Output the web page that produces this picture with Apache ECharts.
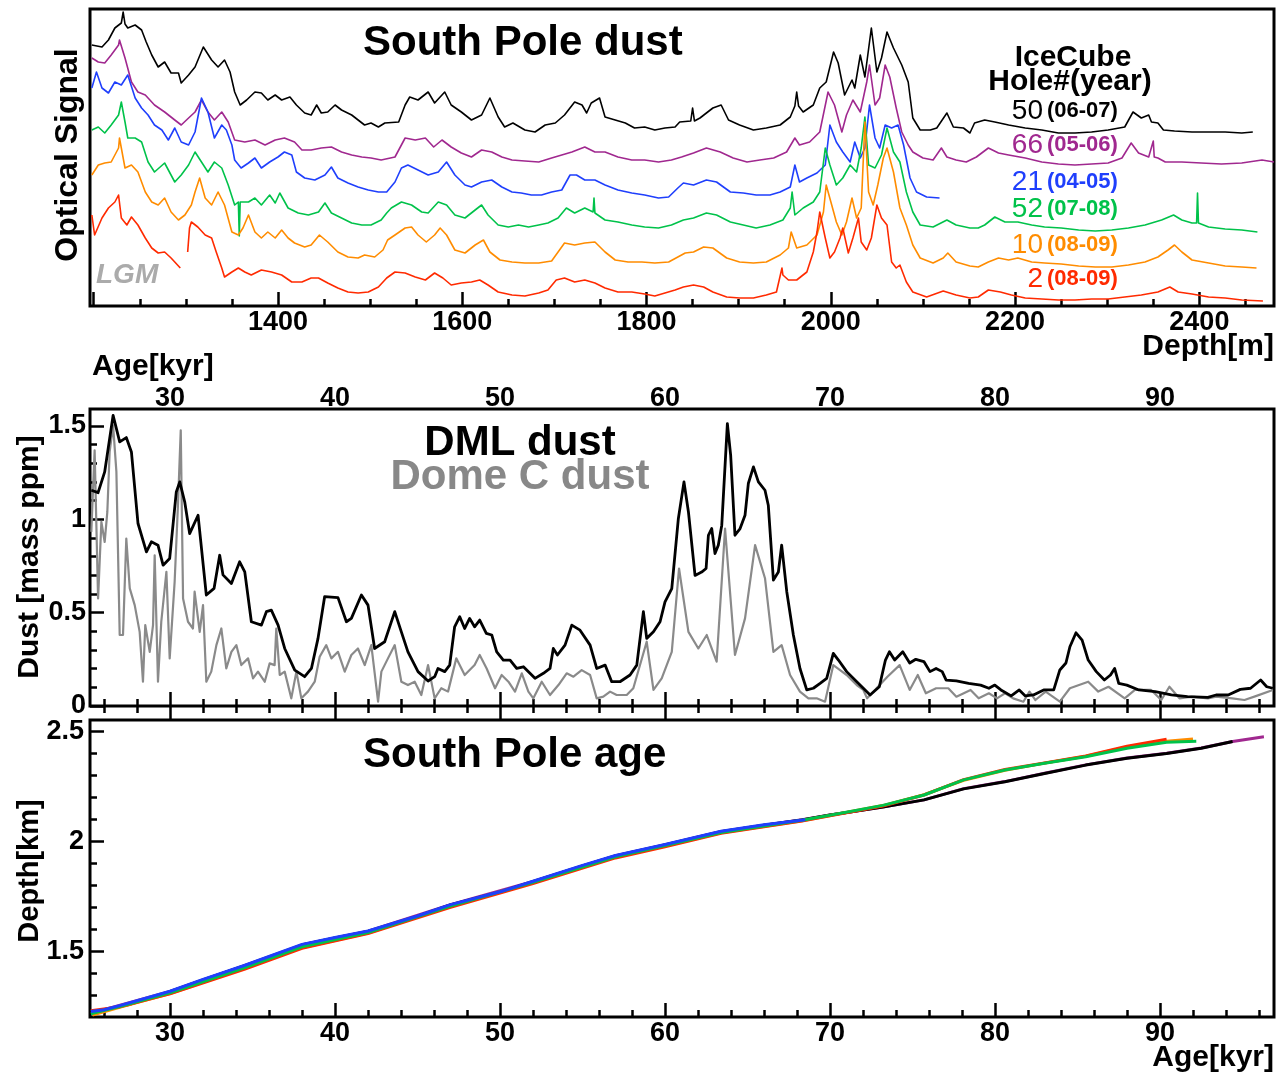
<!DOCTYPE html>
<html>
<head>
<meta charset="utf-8">
<script src="https://cdn.jsdelivr.net/npm/echarts@6/dist/echarts.min.js"></script>
<style>
  html, body { margin: 0; padding: 0; background: #fff; }
  #chart { width: 1276px; height: 1075px; }
</style>
</head>
<body>
<div id="chart"></div>
<script>
// ---------------- data ----------------
// Optical dust logs, [depth m, signal (arb. units, traces stacked)]
const hole50 = [[1198,261],[1209,259],[1216,266],[1223,278],[1230,283],[1232,294],[1234,282],[1237,278],[1245,281],[1252,276],[1257,264],[1263,251],[1270,239],[1277,244],[1284,233],[1292,233],[1295,223],[1303,231],[1310,239],[1319,259],[1328,246],[1335,239],[1342,246],[1348,234],[1353,214],[1359,201],[1366,206],[1375,214],[1382,213],[1389,206],[1397,211],[1404,206],[1413,209],[1420,201],[1429,193],[1436,191],[1442,201],[1447,193],[1454,194],[1462,201],[1469,196],[1480,191],[1487,186],[1494,181],[1501,183],[1509,179],[1516,183],[1531,184],[1538,201],[1543,209],[1552,206],[1563,214],[1570,203],[1581,214],[1588,201],[1599,194],[1610,186],[1621,191],[1630,208],[1639,189],[1646,179],[1655,183],[1668,176],[1679,174],[1690,181],[1701,183],[1711,191],[1722,204],[1730,201],[1735,193],[1740,203],[1749,208],[1755,189],[1766,186],[1777,183],[1787,178],[1798,179],[1809,176],[1820,178],[1831,179],[1836,184],[1848,185],[1850,198],[1852,185],[1858,188],[1872,198],[1881,201],[1889,186],[1901,181],[1916,176],[1930,178],[1945,181],[1956,189],[1961,200],[1963,214],[1965,200],[1970,194],[1981,201],[1988,218],[1995,224],[2003,254],[2008,243],[2015,211],[2023,226],[2026,218],[2032,251],[2037,229],[2044,278],[2050,234],[2055,248],[2061,274],[2068,258],[2077,241],[2084,224],[2089,188],[2097,176],[2108,176],[2115,178],[2126,193],[2133,179],[2144,178],[2151,173],[2156,183],[2167,186],[2178,184],[2193,181],[2211,178],[2229,176],[2247,173],[2265,173],[2283,174],[2301,176],[2319,179],[2328,194],[2337,188],[2345,191],[2348,184],[2355,183],[2361,176],[2373,175],[2392,174],[2410,174],[2428,174],[2446,173],[2458,174]];
const hole66 = [[1198,248],[1205,244],[1212,243],[1219,251],[1227,261],[1228,266],[1234,248],[1241,224],[1248,214],[1256,211],[1266,201],[1277,194],[1288,186],[1295,181],[1303,188],[1310,194],[1317,206],[1324,194],[1331,186],[1339,194],[1346,184],[1353,166],[1364,164],[1375,166],[1386,161],[1397,166],[1407,168],[1418,164],[1426,156],[1436,156],[1447,158],[1458,159],[1469,154],[1480,151],[1491,149],[1501,148],[1512,146],[1527,149],[1538,168],[1549,166],[1560,168],[1569,159],[1578,166],[1588,159],[1599,153],[1610,149],[1621,156],[1632,154],[1643,149],[1654,146],[1668,145],[1683,144],[1697,148],[1708,151],[1719,154],[1733,159],[1744,154],[1755,154],[1769,149],[1784,146],[1798,146],[1813,144],[1827,146],[1838,149],[1851,153],[1865,158],[1880,154],[1894,148],[1909,144],[1923,146],[1938,148],[1952,154],[1961,168],[1966,161],[1977,164],[1988,174],[1997,214],[2004,201],[2012,174],[2017,191],[2024,206],[2032,194],[2039,224],[2042,241],[2048,201],[2053,208],[2059,241],[2064,229],[2071,198],[2077,174],[2084,161],[2089,154],[2100,148],[2111,146],[2120,158],[2126,149],[2136,146],[2147,144],[2158,149],[2171,158],[2182,153],[2193,151],[2211,148],[2229,144],[2247,142],[2265,141],[2283,142],[2301,143],[2316,148],[2326,163],[2334,153],[2345,149],[2350,165],[2351,149],[2355,148],[2363,144],[2381,144],[2402,143],[2424,142],[2446,143],[2468,146],[2481,144]];
const hole21 = [[1198,218],[1203,234],[1209,218],[1216,213],[1223,224],[1230,221],[1237,231],[1245,208],[1252,198],[1259,191],[1266,181],[1274,176],[1281,166],[1288,178],[1295,164],[1303,161],[1310,174],[1317,208],[1324,194],[1331,168],[1339,181],[1344,176],[1350,161],[1353,146],[1360,138],[1368,143],[1375,148],[1382,138],[1391,144],[1400,149],[1407,154],[1415,151],[1420,134],[1429,128],[1440,126],[1451,131],[1458,139],[1465,128],[1476,123],[1487,119],[1498,116],[1509,114],[1518,114],[1527,124],[1534,138],[1541,141],[1552,136],[1563,131],[1574,134],[1583,144],[1592,131],[1603,121],[1610,119],[1621,124],[1632,126],[1643,119],[1654,114],[1664,113],[1675,111],[1686,111],[1697,114],[1708,116],[1717,131],[1724,131],[1733,126],[1744,126],[1755,121],[1769,116],[1784,113],[1798,111],[1813,108],[1824,109],[1834,118],[1840,123],[1851,121],[1865,126],[1876,124],[1891,114],[1905,113],[1919,111],[1934,111],[1945,114],[1956,119],[1961,141],[1966,124],[1974,128],[1985,133],[1994,141],[1999,181],[2006,164],[2013,154],[2021,144],[2026,164],[2032,148],[2037,158],[2042,201],[2048,168],[2053,158],[2059,181],[2066,178],[2073,181],[2079,161],[2086,128],[2093,114],[2104,109],[2118,108]];
const hole52 = [[1198,176],[1205,179],[1212,173],[1219,181],[1227,191],[1230,204],[1234,184],[1237,168],[1245,168],[1252,164],[1259,144],[1266,134],[1277,143],[1288,124],[1295,131],[1303,141],[1310,154],[1317,144],[1324,134],[1331,144],[1339,138],[1346,121],[1353,101],[1357,104],[1358,70],[1359,104],[1368,104],[1375,108],[1382,101],[1391,111],[1397,103],[1402,113],[1411,98],[1422,93],[1433,91],[1444,94],[1451,103],[1458,93],[1469,88],[1480,83],[1491,81],[1501,81],[1512,86],[1518,93],[1523,98],[1534,104],[1545,101],[1556,94],[1563,93],[1574,104],[1583,101],[1592,91],[1603,88],[1614,96],[1621,101],[1628,91],[1639,81],[1650,79],[1661,81],[1672,79],[1683,81],[1693,83],[1704,88],[1713,98],[1722,93],[1733,98],[1742,94],[1743,108],[1744,93],[1755,86],[1769,84],[1784,81],[1798,79],[1813,78],[1827,81],[1840,86],[1851,88],[1865,93],[1876,91],[1891,84],[1905,81],[1919,78],[1934,81],[1948,86],[1956,98],[1958,114],[1961,91],[1970,98],[1981,104],[1988,114],[1994,158],[1999,141],[2006,121],[2013,128],[2021,141],[2028,134],[2033,158],[2037,189],[2041,141],[2048,138],[2055,151],[2061,178],[2068,154],[2075,144],[2082,114],[2089,94],[2097,81],[2111,79],[2126,86],[2136,81],[2151,78],[2160,78],[2167,81],[2178,89],[2189,84],[2203,84],[2218,81],[2232,79],[2250,78],[2269,76],[2287,75],[2305,76],[2323,78],[2341,81],[2359,86],[2372,91],[2381,86],[2392,83],[2397,83],[2398,113],[2399,83],[2410,79],[2428,77],[2446,76],[2463,74]];
const hole10 = [[1198,131],[1205,141],[1212,143],[1219,144],[1227,158],[1228,168],[1234,138],[1241,141],[1248,134],[1256,114],[1263,104],[1270,101],[1277,108],[1284,94],[1292,86],[1299,91],[1306,101],[1310,114],[1315,128],[1321,108],[1328,101],[1335,114],[1342,101],[1350,74],[1357,71],[1362,78],[1368,91],[1375,74],[1382,68],[1389,74],[1397,68],[1404,76],[1411,68],[1418,63],[1429,59],[1436,61],[1445,71],[1454,64],[1465,54],[1476,49],[1487,48],[1494,51],[1505,49],[1514,56],[1519,66],[1527,71],[1538,78],[1545,79],[1552,71],[1561,64],[1570,71],[1576,78],[1583,71],[1592,56],[1603,53],[1614,61],[1623,66],[1630,54],[1641,46],[1654,44],[1668,43],[1683,43],[1697,45],[1704,54],[1711,63],[1722,61],[1733,63],[1744,64],[1755,54],[1766,46],[1780,44],[1795,44],[1809,43],[1824,44],[1834,49],[1842,53],[1851,54],[1862,59],[1872,58],[1887,48],[1901,44],[1916,43],[1930,44],[1945,51],[1954,58],[1957,74],[1963,58],[1974,61],[1985,71],[1992,94],[1995,121],[2001,101],[2006,84],[2012,71],[2017,84],[2023,108],[2028,88],[2033,98],[2037,184],[2041,114],[2046,101],[2051,121],[2057,148],[2061,158],[2068,134],[2075,98],[2082,81],[2089,61],[2097,48],[2111,43],[2122,48],[2127,53],[2136,44],[2151,40],[2160,39],[2171,44],[2182,48],[2193,46],[2203,48],[2218,44],[2232,43],[2250,42],[2269,40],[2287,39],[2305,39],[2323,41],[2341,44],[2355,49],[2366,56],[2373,61],[2381,54],[2392,46],[2410,43],[2428,40],[2446,39],[2462,38]];
const hole2 = [[1198,91],[1201,71],[1209,88],[1216,98],[1223,104],[1227,111],[1230,88],[1236,81],[1241,89],[1248,81],[1256,68],[1263,58],[1270,53],[1277,54],[1284,48],[1294,38],[1297,null],[1302,54],[1304,78],[1306,84],[1313,79],[1321,71],[1328,68],[1333,54],[1339,38],[1342,29],[1350,34],[1357,38],[1364,34],[1371,31],[1382,36],[1393,34],[1404,31],[1415,24],[1426,24],[1436,28],[1444,28],[1454,23],[1465,18],[1476,14],[1487,13],[1498,14],[1509,19],[1518,28],[1527,34],[1538,33],[1549,29],[1560,26],[1570,33],[1579,28],[1588,21],[1599,23],[1610,24],[1619,26],[1628,21],[1639,14],[1654,11],[1668,10],[1683,13],[1693,16],[1702,26],[1711,28],[1722,24],[1733,26],[1744,23],[1755,18],[1769,14],[1784,14],[1798,12],[1809,10],[1820,13],[1831,16],[1840,19],[1851,21],[1862,19],[1872,14],[1887,9],[1901,8],[1916,8],[1930,11],[1941,14],[1947,38],[1948,31],[1954,26],[1963,26],[1974,34],[1981,54],[1985,74],[1988,94],[1994,68],[1999,48],[2004,54],[2010,68],[2013,78],[2019,53],[2024,68],[2030,88],[2033,64],[2039,56],[2044,68],[2050,101],[2055,88],[2061,81],[2066,44],[2071,38],[2075,41],[2082,24],[2089,14],[2104,9],[2122,15],[2136,11],[2151,8],[2160,9],[2171,16],[2184,14],[2196,11],[2211,8],[2229,7],[2247,6],[2265,6],[2283,7],[2301,7],[2319,9],[2337,11],[2355,14],[2368,19],[2377,14],[2392,12],[2410,9],[2428,8],[2446,6],[2469,5]];

const holeNumbers = ['50', '66', '21', '52', '10', '2'];
const holeSeasons = ['(06-07)', '(05-06)', '(04-05)', '(07-08)', '(08-09)', '(08-09)'];

// Dust concentration, [age kyr, mass ppm]
const dmlDust = [[25.23,1.155],[25.64,1.142],[26.04,1.253],[26.55,1.556],[26.95,1.414],[27.35,1.437],[27.66,1.36],[28.06,0.977],[28.57,0.825],[28.87,0.879],[29.27,0.861],[29.58,0.754],[29.98,0.79],[30.38,1.146],[30.59,1.2],[30.89,1.093],[31.19,0.923],[31.7,1.021],[32.2,0.594],[32.67,0.63],[33.01,0.807],[33.21,0.702],[33.72,0.656],[34.22,0.772],[34.53,0.718],[34.93,0.451],[35.54,0.433],[35.84,0.505],[36.14,0.513],[36.55,0.433],[36.95,0.308],[37.56,0.192],[38.16,0.157],[38.57,0.201],[38.97,0.362],[39.37,0.585],[40.18,0.58],[40.69,0.451],[40.99,0.469],[41.6,0.594],[42.0,0.54],[42.4,0.308],[43.01,0.344],[43.62,0.505],[44.02,0.397],[44.42,0.29],[45.03,0.184],[45.64,0.134],[46.04,0.157],[46.24,0.201],[46.65,0.184],[46.95,0.219],[47.25,0.424],[47.56,0.478],[47.86,0.415],[48.16,0.469],[48.46,0.424],[48.77,0.46],[49.17,0.389],[49.5,0.38],[49.8,0.29],[50.2,0.246],[50.61,0.246],[51.01,0.201],[51.42,0.21],[52.12,0.148],[52.63,0.175],[53.03,0.201],[53.23,0.308],[53.48,0.273],[53.94,0.326],[54.35,0.433],[54.85,0.406],[55.46,0.326],[55.86,0.201],[56.37,0.219],[56.77,0.13],[57.27,0.13],[57.88,0.166],[58.29,0.219],[58.69,0.505],[58.89,0.362],[59.3,0.397],[59.7,0.451],[60.0,0.557],[60.41,0.628],[60.81,1.004],[61.15,1.2],[61.42,1.039],[61.82,0.699],[62.22,0.717],[62.49,0.736],[62.63,0.914],[62.83,0.95],[63.03,0.816],[63.23,0.861],[63.44,0.968],[63.78,1.512],[63.98,1.342],[64.24,0.914],[64.55,0.95],[64.85,1.021],[65.05,1.191],[65.36,1.28],[65.66,1.2],[66.06,1.155],[66.26,1.075],[66.57,0.674],[66.87,0.717],[67.07,0.861],[67.38,0.612],[67.78,0.38],[68.18,0.201],[68.59,0.086],[68.99,0.095],[69.4,0.121],[69.8,0.148],[70.2,0.282],[70.51,0.246],[71.01,0.184],[71.62,0.13],[72.02,0.095],[72.43,0.059],[72.99,0.103],[73.36,0.246],[73.6,0.29],[73.92,0.246],[74.41,0.29],[74.83,0.23],[75.2,0.25],[75.69,0.238],[76.06,0.184],[76.43,0.201],[76.8,0.184],[77.04,0.139],[77.66,0.135],[78.4,0.121],[79.13,0.112],[79.63,0.095],[79.99,0.112],[80.36,0.086],[80.98,0.054],[81.47,0.086],[81.84,0.054],[82.33,0.059],[82.95,0.086],[83.56,0.086],[83.93,0.193],[84.3,0.23],[84.54,0.317],[84.91,0.392],[85.28,0.353],[85.65,0.246],[86.14,0.184],[86.63,0.139],[87.0,0.166],[87.25,0.201],[87.5,0.121],[87.99,0.112],[88.72,0.086],[89.71,0.077],[90.69,0.059],[91.67,0.05],[92.9,0.046],[93.4,0.059],[94.13,0.059],[94.87,0.089],[95.49,0.095],[96.1,0.139],[96.47,0.103],[96.84,0.095]];
const domeCDust = [[25.23,0.932],[25.43,1.369],[25.64,0.576],[25.84,0.986],[26.04,0.878],[26.2,1.039],[26.34,1.36],[26.55,1.503],[26.75,1.253],[26.95,0.38],[27.15,0.38],[27.35,0.896],[27.56,0.63],[27.86,0.54],[28.16,0.397],[28.36,0.13],[28.5,0.433],[28.77,0.29],[28.97,0.433],[29.07,0.807],[29.27,0.13],[29.47,0.451],[29.78,0.718],[29.98,0.255],[30.28,0.665],[30.48,1.075],[30.65,1.476],[30.79,0.576],[31.09,0.451],[31.39,0.415],[31.49,0.612],[31.8,0.397],[32.0,0.54],[32.2,0.13],[32.5,0.184],[32.81,0.326],[33.11,0.415],[33.41,0.201],[33.72,0.29],[34.02,0.326],[34.32,0.219],[34.73,0.255],[35.03,0.148],[35.33,0.184],[35.74,0.13],[36.04,0.228],[36.34,0.219],[36.44,0.415],[36.65,0.166],[36.95,0.184],[37.35,0.041],[37.66,0.184],[37.96,0.041],[38.36,0.077],[38.77,0.13],[39.07,0.264],[39.47,0.326],[39.78,0.255],[40.18,0.29],[40.59,0.184],[40.99,0.273],[41.39,0.308],[41.8,0.219],[42.2,0.326],[42.61,0.023],[42.81,0.184],[43.21,0.255],[43.62,0.326],[44.02,0.13],[44.42,0.112],[44.83,0.13],[45.23,0.059],[45.64,0.219],[46.04,0.041],[46.44,0.095],[46.85,0.077],[47.35,0.255],[47.86,0.166],[48.46,0.219],[48.77,0.273],[49.19,0.201],[49.7,0.095],[50.1,0.166],[50.51,0.13],[50.91,0.077],[51.32,0.175],[51.72,0.077],[52.02,0.041],[52.53,0.13],[53.03,0.059],[53.54,0.112],[54.04,0.175],[54.45,0.157],[54.95,0.192],[55.46,0.166],[55.86,0.041],[56.26,0.05],[56.67,0.077],[57.07,0.059],[57.68,0.059],[58.08,0.095],[58.89,0.344],[59.3,0.086],[59.8,0.148],[60.41,0.29],[60.85,0.736],[61.42,0.397],[62.02,0.308],[62.53,0.38],[63.13,0.237],[63.64,0.95],[64.24,0.273],[64.85,0.469],[65.46,0.861],[66.06,0.684],[66.57,0.29],[67.07,0.326],[67.58,0.166],[68.18,0.077],[68.69,0.041],[69.19,0.041],[69.7,0.023],[70.2,0.219],[70.61,0.192],[71.01,0.166],[71.62,0.112],[72.02,0.086],[72.25,0.041],[73.48,0.157],[74.22,0.219],[74.83,0.086],[75.32,0.166],[75.81,0.068],[76.43,0.095],[77.17,0.095],[77.66,0.05],[78.52,0.086],[79.01,0.041],[79.63,0.068],[80.12,0.041],[80.61,0.068],[81.1,0.041],[81.72,0.023],[82.09,0.077],[82.45,0.032],[83.07,0.077],[83.93,0.023],[84.54,0.095],[85.65,0.13],[86.26,0.077],[86.88,0.103],[87.86,0.041],[88.48,0.086],[89.46,0.086],[90.08,0.032],[90.57,0.103],[91.18,0.041],[91.92,0.05],[92.9,0.041],[93.4,0.05],[94.38,0.041],[95.12,0.032],[95.85,0.054],[96.84,0.086]];

// Age-depth relations per hole, [age kyr, depth km]
const ageDepth66 = [[25.6,1.228],[30,1.319],[34.5,1.436],[38,1.531],[42,1.593],[47,1.713],[52,1.819],[57,1.936],[60,1.986],[63.4,2.046],[68.3,2.1],[70,2.121],[73.2,2.157],[75.7,2.19],[78.1,2.241],[80.6,2.273],[83,2.311],[85.5,2.349],[88,2.38],[90.4,2.402],[92.5,2.426],[94.4,2.455],[96.3,2.477]];
const ageDepth50 = [[25.2,1.222],[26.5,1.243],[27.5,1.26],[30,1.318],[32,1.372],[34.5,1.435],[36,1.475],[38,1.53],[40,1.562],[42,1.592],[45,1.66],[47,1.712],[50,1.77],[52,1.818],[55,1.89],[57,1.935],[60,1.985],[63.4,2.045],[66,2.075],[68.3,2.099],[70,2.121],[73.2,2.157],[75.7,2.19],[78.1,2.24],[80.6,2.272],[83,2.31],[85.5,2.348],[88,2.379],[90.4,2.401],[92.5,2.425],[94.4,2.455]];
const ageDepth10 = [[25.3,1.212],[27,1.248],[30,1.31],[34.5,1.424],[38,1.518],[42,1.585],[47,1.706],[52,1.814],[57,1.93],[60,1.98],[63.4,2.04],[68.3,2.095],[70,2.119],[73.2,2.164],[75.7,2.214],[78.1,2.279],[80.6,2.324],[83,2.357],[85.5,2.388],[88,2.43],[90.4,2.456],[92,2.467]];
const ageDepth2 = [[25.2,1.232],[27,1.25],[30,1.308],[34.5,1.42],[38,1.515],[42,1.582],[47,1.702],[52,1.81],[57,1.926],[60,1.977],[63.4,2.038],[68.3,2.094],[70,2.118],[73.2,2.162],[75.7,2.212],[78.1,2.282],[80.6,2.328],[83,2.358],[85.5,2.389],[88,2.434],[90.4,2.466]];
const ageDepth52 = [[25.2,1.218],[27,1.252],[30,1.313],[34.5,1.427],[38,1.522],[42,1.587],[47,1.707],[52,1.815],[57,1.931],[60,1.982],[63.4,2.042],[68.3,2.097],[70,2.12],[73.2,2.165],[75.7,2.212],[78.1,2.281],[80.6,2.326],[83,2.356],[85.5,2.386],[88,2.425],[90.4,2.452],[92.2,2.456]];
const ageDepth21 = [[25.2,1.228],[26,1.236],[27,1.256],[30,1.32],[32,1.374],[34.5,1.437],[36,1.478],[38,1.533],[40,1.564],[42,1.594],[45,1.662],[47,1.714],[50,1.772],[52,1.82],[55,1.892],[57,1.937],[60,1.987],[63.4,2.047],[66,2.077],[68.5,2.1]];

// Axis ticks
const depthTicks = [1400, 1600, 1800, 2000, 2200, 2400];
const ageTicks = [30, 40, 50, 60, 70, 80, 90];
const dustTicks = [0, 0.5, 1, 1.5];
const depthKmTicks = [1.5, 2, 2.5];

// ---------------- layout / style ----------------
const FONT = 'Liberation Sans';
const HOLE_COLORS = ['#000000', '#a0288f', '#1f3ffc', '#00c24a', '#ff8c00', '#ff2a00'];
const DEPTH_RANGE = [1196, 2481];
const AGE_RANGE = [25.15, 96.91];

function range(a, b, step) {
  const out = [];
  for (let v = a; v <= b + 1e-9; v += step) out.push(Math.round(v * 1000) / 1000);
  return out;
}

const labelStyle = { fontFamily: FONT, fontWeight: 'bold', fontSize: 27, color: '#000', formatter: v => String(v) };
const tickLine = { color: '#000', width: 2.5 };

function xAx(grid, rng, pos, ticks, len, labels, margin) {
  return {
    type: 'value', gridIndex: grid, min: rng[0], max: rng[1], position: pos,
    axisLine: { show: false }, splitLine: { show: false },
    axisTick: { show: true, inside: true, length: len, lineStyle: tickLine, customValues: ticks },
    axisLabel: labels
      ? Object.assign({ show: true, customValues: labels, margin: margin }, labelStyle)
      : { show: false }
  };
}
function yAx(grid, rng, ticks, len, labels, margin) {
  return {
    type: 'value', gridIndex: grid, min: rng[0], max: rng[1], position: 'left',
    axisLine: { show: false }, splitLine: { show: false },
    axisTick: ticks ? { show: true, inside: true, length: len, lineStyle: tickLine, customValues: ticks } : { show: false },
    axisLabel: labels
      ? Object.assign({ show: true, customValues: labels, margin: margin }, labelStyle)
      : { show: false }
  };
}

function line(data, color, width, xi, yi, z) {
  return {
    type: 'line', xAxisIndex: xi, yAxisIndex: yi, z: z,
    data: data.map(p => [p[0], p[1] == null ? '-' : p[1]]),
    symbol: 'none', showSymbol: false, connectNulls: false, clip: true,
    lineStyle: { color: color, width: width, join: 'round' },
    emphasis: { disabled: true }, animation: false, silent: true
  };
}

const gridBox = { show: true, borderColor: '#000', borderWidth: 3, backgroundColor: 'transparent' };

const ageMinor = range(26, 96, 2);
const option = {
  backgroundColor: '#fff',
  animation: false,
  grid: [
    Object.assign({ left: 90, top: 9, width: 1184, height: 297 }, gridBox),
    Object.assign({ left: 90, top: 409, width: 1184, height: 297 }, gridBox),
    Object.assign({ left: 90, top: 720, width: 1184, height: 297 }, gridBox)
  ],
  xAxis: [
    xAx(0, DEPTH_RANGE, 'bottom', range(1200, 2450, 200).concat(depthTicks), 14, depthTicks, 3),
    xAx(0, DEPTH_RANGE, 'bottom', range(1200, 2450, 50), 7, null),
    xAx(1, AGE_RANGE, 'top', ageTicks, 14, ageTicks, -3),
    xAx(1, AGE_RANGE, 'top', ageMinor, 7, null),
    xAx(1, AGE_RANGE, 'bottom', ageTicks, 14, null),
    xAx(1, AGE_RANGE, 'bottom', ageMinor, 7, null),
    xAx(2, AGE_RANGE, 'bottom', ageTicks, 14, ageTicks, 3),
    xAx(2, AGE_RANGE, 'bottom', ageMinor, 7, null)
  ],
  yAxis: [
    yAx(0, [0, 297], null, 0, null),
    yAx(1, [0, 1.59], dustTicks, 14, dustTicks, 4),
    yAx(1, [0, 1.59], range(0, 1.5, 0.1), 7, null),
    yAx(2, [1.203, 2.553], depthKmTicks, 14, depthKmTicks, 6),
    yAx(2, [1.203, 2.553], range(1.3, 2.5, 0.1), 7, null)
  ],
  series: [
    line(hole50, HOLE_COLORS[0], 1.6, 0, 0, 2),
    line(hole66, HOLE_COLORS[1], 1.6, 0, 0, 3),
    line(hole21, HOLE_COLORS[2], 1.6, 0, 0, 4),
    line(hole52, HOLE_COLORS[3], 1.6, 0, 0, 5),
    line(hole10, HOLE_COLORS[4], 1.6, 0, 0, 6),
    line(hole2,  HOLE_COLORS[5], 1.6, 0, 0, 7),
    line(domeCDust, '#8a8a8a', 2.2, 2, 1, 3),
    line(dmlDust, '#000000', 2.8, 2, 1, 4),
    line(ageDepth66, HOLE_COLORS[1], 3, 6, 3, 2),
    line(ageDepth50, HOLE_COLORS[0], 3, 6, 3, 3),
    line(ageDepth10, HOLE_COLORS[4], 3, 6, 3, 4),
    line(ageDepth2,  HOLE_COLORS[5], 3, 6, 3, 5),
    line(ageDepth52, HOLE_COLORS[3], 3, 6, 3, 6),
    line(ageDepth21, HOLE_COLORS[2], 3, 6, 3, 7)
  ],
  graphic: []
};

function txt(text, x, y, size, opts) {
  opts = opts || {};
  return {
    type: 'text', z: 100, x: x, y: y, rotation: opts.rotation || 0,
    style: {
      text: text, fill: opts.color || '#000',
      font: (opts.italic ? 'italic ' : '') + (opts.weight || 'bold') + ' ' + size + 'px "' + FONT + '"',
      textAlign: opts.align || 'left', textVerticalAlign: 'middle'
    }
  };
}

const g = option.graphic;
g.push(txt('South Pole dust', 363, 43, 42));
g.push(txt('IceCube', 1073, 58, 30, { align: 'center' }));
g.push(txt('Hole#(year)', 1070, 82, 30, { align: 'center' }));
const holeRowY = [111, 145, 182, 209, 245, 279];
holeNumbers.forEach((n, i) => {
  g.push(txt(n, 1043, holeRowY[i], 28, { align: 'right', weight: 'normal', color: HOLE_COLORS[i] }));
  g.push(txt(holeSeasons[i], 1047, holeRowY[i], 22, { color: HOLE_COLORS[i] }));
});
g.push(txt('LGM', 96, 275, 28, { italic: true, color: '#ababab' }));
g.push(txt('Optical Signal', 68, 155, 32, { align: 'center', rotation: Math.PI / 2 }));
g.push(txt('Depth[m]', 1274, 347, 30, { align: 'right' }));
g.push(txt('Age[kyr]', 92, 367, 30));
g.push(txt('DML dust', 520, 443, 42, { align: 'center' }));
g.push(txt('Dome C dust', 520, 477, 42, { align: 'center', color: '#888888' }));
g.push(txt('Dust [mass ppm]', 30, 557, 30, { align: 'center', rotation: Math.PI / 2 }));
g.push(txt('South Pole age', 363, 755, 42));
g.push(txt('Depth[km]', 30, 871, 29, { align: 'center', rotation: Math.PI / 2 }));
g.push(txt('Age[kyr]', 1274, 1058, 30, { align: 'right' }));

const chart = echarts.init(document.getElementById('chart'), null, { renderer: 'canvas' });
chart.setOption(option);
</script>
</body>
</html>
